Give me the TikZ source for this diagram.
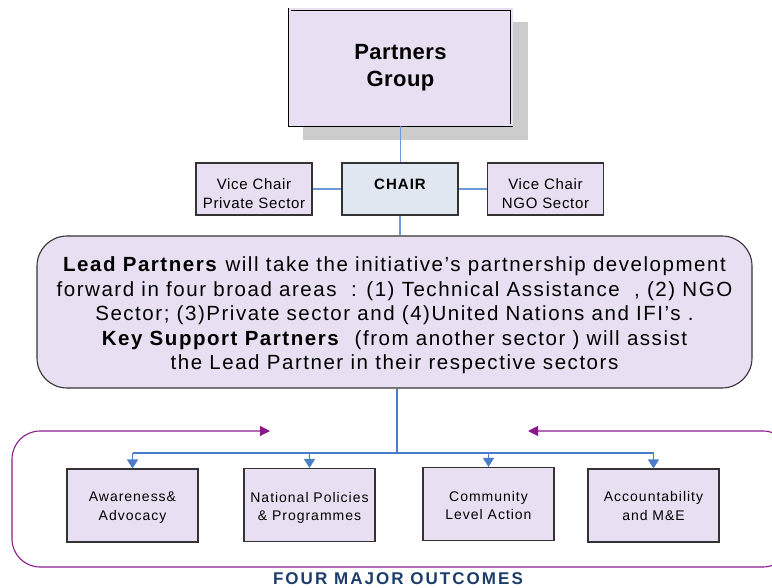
\documentclass[tikz,border=0pt]{standalone}
\usepackage{fontspec}
\setmainfont{Liberation Sans}
\usetikzlibrary{arrows.meta}
\definecolor{lav}{HTML}{E8E0F2}
\definecolor{chairfill}{HTML}{E0E7F1}
\definecolor{edge}{HTML}{333333}
\definecolor{link}{HTML}{6E98D6}
\definecolor{branch}{HTML}{4A7DC9}
\definecolor{loop}{HTML}{8A1A8C}
\definecolor{navy}{HTML}{1C3D6B}
\newcommand{\spc}[1]{\addfontfeature{LetterSpace=#1}}
\begin{document}
\begin{tikzpicture}[x=1pt,y=-1pt,
  box/.style={draw=edge, line width=1.1pt, fill=lav, inner sep=0pt},
  smallbox/.style={box, minimum width=116pt, minimum height=52pt},
  smalltext/.style={align=center, inner sep=0pt, font=\fontsize{15}{19}\selectfont\spc{4.5}},
  outbox/.style={box, minimum width=131pt, minimum height=73pt},
  outtext/.style={align=center, inner sep=0pt, font=\fontsize{14}{18.5}\selectfont\spc{7}},
  conn/.style={draw=link, line width=1.1pt},
  feed/.style={draw=branch, line width=1.2pt},
  feedarrow/.style={feed, -{Triangle[width=11pt,length=9pt]}},
  cycle/.style={draw=loop, line width=1.1pt, rounded corners=28pt,
    {Triangle[width=10pt,length=10pt]}-{Triangle[width=10pt,length=10pt]}}
]
\useasboundingbox (0,0) rectangle (772,588);

% Partners Group with drop shadow and double frame
\fill[gray!40] (303,22) rectangle (528,140);
\node[box, draw=black, double=lav, double distance=2pt, line width=0.9pt,
  minimum width=222pt, minimum height=116pt, align=center,
  font=\bfseries\fontsize{22}{27.5}\selectfont\spc{2}]
  (pg) at (400.5,67.5) {Partners\\Group};

% Chair and vice chairs
\node[smallbox, fill=chairfill] (chair) at (400,189) {};
\node[smallbox] (vcp) at (254,189) {};
\node[smallbox] (vcn) at (545.5,189) {};
\node[inner sep=0pt, font=\bfseries\fontsize{15}{19}\selectfont\spc{7}]
  (chairtext) at (400,184.7) {CHAIR};
\node[smalltext] (vcptext) at (254,194) {Vice Chair\\Private Sector};
\node[smalltext] (vcntext) at (545.5,194) {Vice Chair\\NGO Sector};

% Lead partners description
\node[box, rounded corners=30pt, minimum width=715pt, minimum height=152pt]
  (lead) at (394.5,312) {};
\node[align=center, inner sep=0pt, font=\fontsize{20.5}{24.5}\selectfont\spc{7.5}]
  (leadtext) at (394.5,315.6)
  {\textbf{Lead Partners}\ will take the initiative’s partnership development\\
   forward in four broad areas\ \ : (1) Technical Assistance\ \ , (2) NGO\\
   Sector; (3)Private sector and\ (4)United Nations and IFI’s .\\
   \textbf{Key Support Partners}\ \ (from another sector ) will assist\\
   the Lead Partner in their respective sectors};

% Four outcomes
\node[outbox] (aw)  at (132.5,505.5) {};
\node[outbox] (np)  at (309.5,505)   {};
\node[outbox] (cl)  at (488.5,504)   {};
\node[outbox] (acc) at (653.5,505.5) {};
\node[outtext] (awtext)  at (132.5,507.7) {Awareness\&\\Advocacy};
\node[outtext] (nptext)  at (309.5,507.7) {National Policies\\\& Programmes};
\node[outtext] (cltext)  at (488.5,505.7) {Community\\Level Action};
\node[outtext] (acctext) at (653.5,506.2) {Accountability\\and M\&E};

\node[inner sep=0pt, font=\bfseries\fontsize{17}{19}\selectfont\spc{12}, text=navy]
  (title) at (398,579) {FOUR MAJOR OUTCOMES};

% Top links
\draw[conn] (pg.south) -- (pg.south |- chair.north);
\draw[conn] (vcp.east) -- (chair.west);
\draw[conn] (chair.east) -- (vcn.west);
\draw[conn] (chair.south) -- (chair.south |- lead.north);

% Branch to outcomes
\coordinate (br) at (397,453);
\draw[feed] (lead.south -| br) -- (br);
\draw[feed] (aw.north |- br) -- (acc.north |- br);
\foreach \n in {aw,np,cl,acc}
  \draw[feedarrow] (\n.north |- br) -- (\n.north);

% Surrounding cycle
\coordinate (cycR) at (528,431);
\coordinate (cycL) at (270,431);
\draw[cycle] (cycR) -- (791,431) -- (791,567) -- (12,567) -- (12,431) -- (cycL);
\end{tikzpicture}
\end{document}
